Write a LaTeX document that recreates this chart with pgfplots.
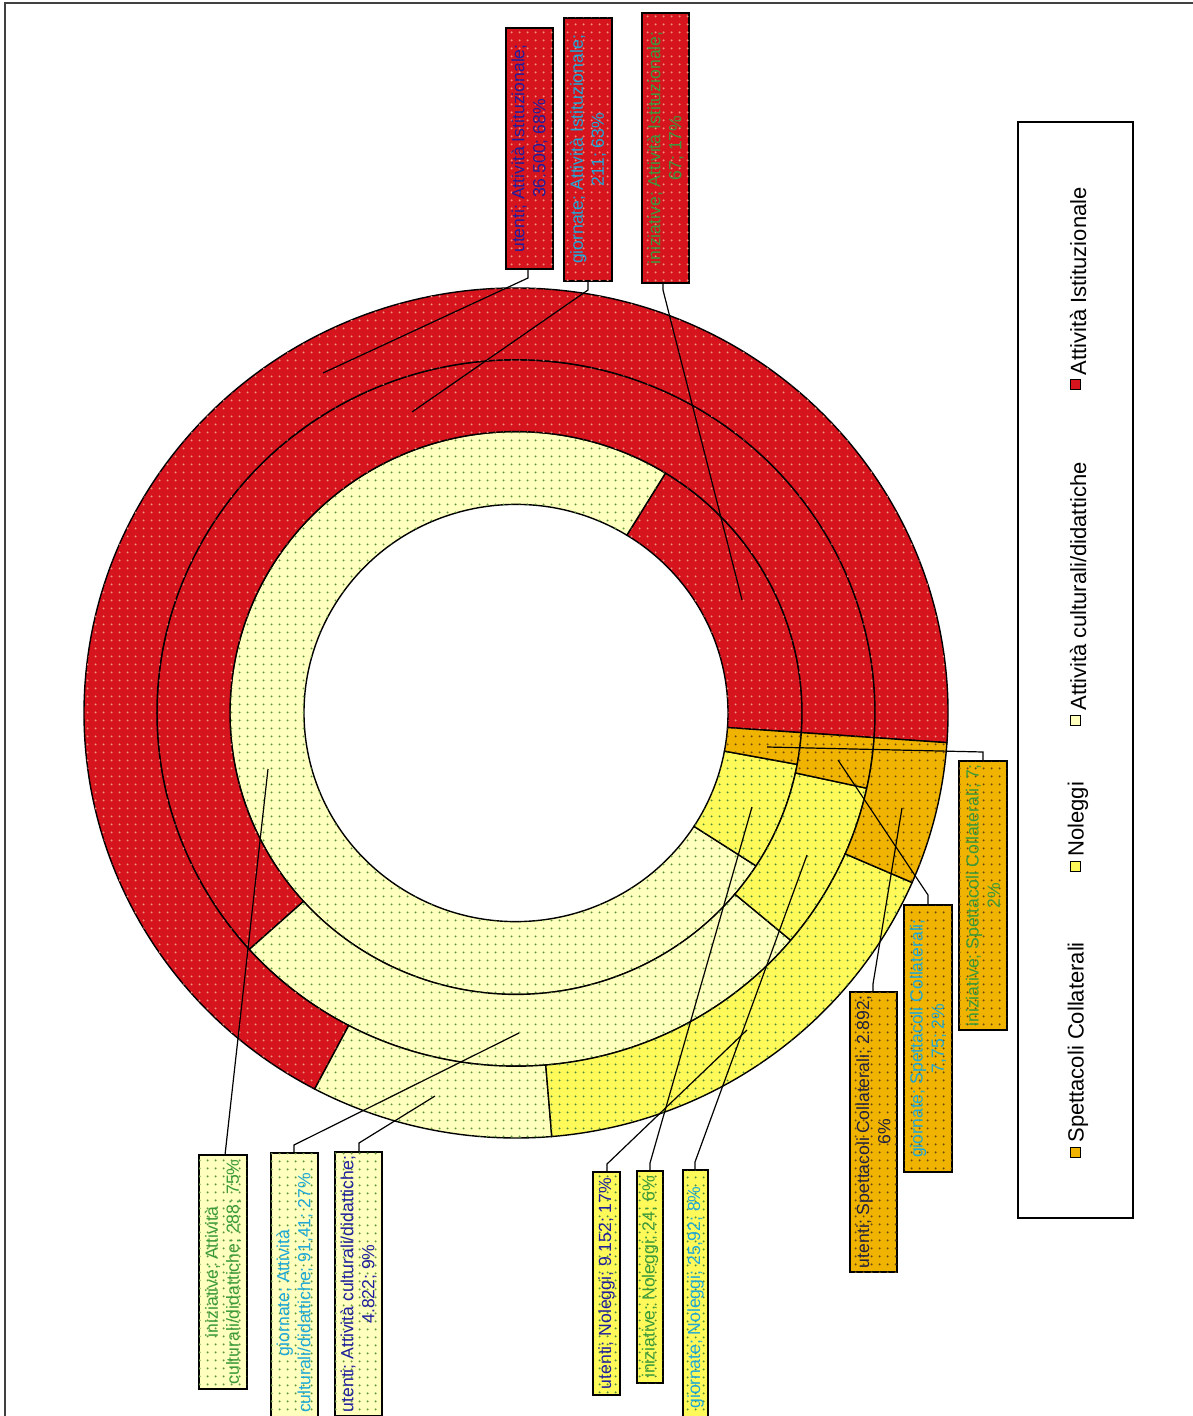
\documentclass[border=0pt]{standalone}
\usepackage{pgfplots}
\pgfplotsset{compat=1.18}
\usepackage{pgfplotstable}
\usetikzlibrary{patterns.meta}
\usepackage{fontspec}
\setmainfont{Liberation Sans}

% colours
\definecolor{istc}{HTML}{D6141E}
\definecolor{cultc}{HTML}{FFFFBE}
\definecolor{nolc}{HTML}{FFFA5A}
\definecolor{spec}{HTML}{F0B400}
\definecolor{istd}{HTML}{F29080}
\definecolor{cultd}{HTML}{5E963A}
\definecolor{nold}{HTML}{4E8A3A}
\definecolor{sped}{HTML}{6A4A10}
\definecolor{tU}{HTML}{1E1E9E}
\definecolor{tG}{HTML}{1EA8D8}
\definecolor{tI}{HTML}{3A9A3A}
\definecolor{tUS}{HTML}{202040}

\pgfplotstableread{
cat    utenti  giornate iniziative
Ist    36500   211      67
Cult   4822    91.41    288
Nol    9152    25.92    24
Spett  2892    7.75     7
}\datatable

\def\startang{-4}
% cumulative angles of one ring, stored as \ang{col}{k}
\newcommand\computering[1]{%
  \gdef\tot{0}%
  \pgfplotsforeachungrouped \k in {0,1,2,3}{%
    \pgfplotstablegetelem{\k}{#1}\of\datatable
    \xdef\tot{\fpeval{\tot+\pgfplotsretval}}%
  }%
  \xdef\acc{\startang}%
  \expandafter\xdef\csname ang#1@0\endcsname{\acc}%
  \pgfplotsforeachungrouped \k in {0,1,2,3}{%
    \pgfplotstablegetelem{\k}{#1}\of\datatable
    \xdef\acc{\fpeval{round(\acc+360*\pgfplotsretval/\tot,3)}}%
    \expandafter\xdef\csname ang#1@\the\numexpr\k+1\relax\endcsname{\acc}%
  }%
}
\newcommand\ang[2]{\csname ang#1@#2\endcsname}
\computering{utenti}
\computering{giornate}
\computering{iniziative}

% ring radii (1px = 0.5pt, slight vertical squash of the scan)
\def\rAx{106pt}\def\rAy{104.3pt}
\def\rBx{143pt}\def\rBy{140.7pt}
\def\rCx{179.5pt}\def\rCy{176.6pt}
\def\rDx{216pt}\def\rDy{212.5pt}

% #1 a0, #2 a1, #3/#4 inner radii, #5/#6 outer radii, #7 style
\newcommand\sector[7]{%
  \edef\tmp{\noexpand\filldraw[#7] ([shift={(C)}]#1:#5 and #6)
    arc[start angle=#1,end angle=#2,x radius=#5,y radius=#6]
    -- ([shift={(C)}]#2:#3 and #4)
    arc[start angle=#2,end angle=#1,x radius=#3,y radius=#4] -- cycle;}%
  \tmp
}
\newcommand\drawring[5]{%
  \sector{\ang{#1}{0}}{\ang{#1}{1}}{#2}{#3}{#4}{#5}{ist}%
  \sector{\ang{#1}{1}}{\ang{#1}{2}}{#2}{#3}{#4}{#5}{cult}%
  \sector{\ang{#1}{2}}{\ang{#1}{3}}{#2}{#3}{#4}{#5}{nol}%
  \sector{\ang{#1}{3}}{\ang{#1}{4}}{#2}{#3}{#4}{#5}{spe}%
}

\tikzset{
  dotfill/.style={postaction={pattern={Dots[distance=4pt,radius=0.6pt]},pattern color=#1}},
  ist/.style={fill=istc,draw=black,line width=0.7pt,dotfill=istd},
  cult/.style={fill=cultc,draw=black,line width=0.7pt,dotfill=cultd},
  nol/.style={fill=nolc,draw=black,line width=0.7pt,dotfill=nold},
  spe/.style={fill=spec,draw=black,line width=0.7pt,dotfill=sped},
  lab/.style={draw=black,line width=0.8pt,rotate=90,align=center,inner sep=1pt,
    font=\fontsize{8.8}{10.6}\selectfont},
  lead/.style={draw=black,line width=0.6pt},
  legtxt/.style={rotate=90,anchor=west,inner sep=0pt,font=\fontsize{11}{13}\selectfont},
  legbox/.style={draw=black,line width=0.5pt,minimum size=5pt,inner sep=0pt},
}

\begin{document}%
\begin{tikzpicture}
\begin{axis}[
    x=0.5pt, y=0.5pt,
    xmin=0, xmax=1192, ymin=0, ymax=1416,
    y dir=reverse,
    hide axis,
    clip=false,
]
\coordinate (BL) at (axis cs:0,1416);
\coordinate (TR) at (axis cs:1192,0);
\coordinate (C) at (axis cs:516,713);

% page frame of the scan
\draw[black!75,line width=1.2pt] (axis cs:5,1420) -- (axis cs:5,3) -- (axis cs:1196,3);

% rings: inner = iniziative, middle = giornate, outer = utenti
\drawring{iniziative}{\rAx}{\rAy}{\rBx}{\rBy}
\drawring{giornate}{\rBx}{\rBy}{\rCx}{\rCy}
\drawring{utenti}{\rCx}{\rCy}{\rDx}{\rDy}

% leader lines
\draw[lead] (axis cs:528,270) -- (axis cs:528,278) -- (axis cs:323,373);
\draw[lead] (axis cs:588,281) -- (axis cs:588,290) -- (axis cs:412,412);
\draw[lead] (axis cs:663,283) -- (axis cs:663,290) -- (axis cs:742,600);
\draw[lead] (axis cs:225,1155) -- (axis cs:268,769);
\draw[lead] (axis cs:294,1153) -- (axis cs:294,1145) -- (axis cs:519,1033);
\draw[lead] (axis cs:359,1152) -- (axis cs:359,1143) -- (axis cs:435,1096);
\draw[lead] (axis cs:607,1172) -- (axis cs:607,1164) -- (axis cs:747,1030);
\draw[lead] (axis cs:650,1171) -- (axis cs:650,1163) -- (axis cs:752,807);
\draw[lead] (axis cs:695,1170) -- (axis cs:695,1162) -- (axis cs:807,855);
\draw[lead] (axis cs:873,992) -- (axis cs:873,984) -- (axis cs:902,808);
\draw[lead] (axis cs:928,905) -- (axis cs:928,895) -- (axis cs:838,760);
\draw[lead] (axis cs:983,761) -- (axis cs:983,752) -- (axis cs:767,747);

% data labels
\node[lab,fill=istc,dotfill=istd,text=tU,minimum width=120.5pt,minimum height=23.5pt]
  at (axis cs:529.5,148.5) {utenti; Attività Istituzionale;\\36.500; 68\%};
\node[lab,fill=istc,dotfill=istd,text=tG,minimum width=131.5pt,minimum height=24pt]
  at (axis cs:588,149.5) {giornate; Attività Istituzionale;\\211; 63\%};
\node[lab,fill=istc,dotfill=istd,text=tI,minimum width=135pt,minimum height=23.5pt]
  at (axis cs:665.5,148) {iniziative; Attività Istituzionale;\\67; 17\%};

\node[lab,fill=cultc,dotfill=cultd,text=tI,minimum width=117pt,minimum height=24pt]
  at (axis cs:223,1272) {iniziative; Attività\\culturali/didattiche; 288; 75\%};
\node[lab,fill=cultc,dotfill=cultd,text=tG,minimum width=140pt,minimum height=23.5pt]
  at (axis cs:294.5,1293) {giornate; Attività\\culturali/didattiche; 91,41; 27\%};
\node[lab,fill=cultc,dotfill=cultd,text=tU,minimum width=132pt,minimum height=23.5pt]
  at (axis cs:358.5,1284) {utenti; Attività culturali/didattiche;\\4.822; 9\%};

\node[lab,fill=nolc,dotfill=nold,text=tU,minimum width=111.5pt,minimum height=13.5pt]
  at (axis cs:606.5,1283.5) {utenti; Noleggi; 9.152; 17\%};
\node[lab,fill=nolc,dotfill=nold,text=tI,minimum width=106pt,minimum height=13pt]
  at (axis cs:650,1277) {iniziative; Noleggi; 24; 6\%};
\node[lab,fill=nolc,dotfill=nold,text=tG,minimum width=127.5pt,minimum height=12.5pt]
  at (axis cs:695.5,1297.5) {giornate; Noleggi; 25,92; 8\%};

\node[lab,fill=spec,dotfill=sped,text=tUS,minimum width=140pt,minimum height=23.5pt]
  at (axis cs:873.5,1132) {utenti; Spettacoli Collaterali; 2.892;\\6\%};
\node[lab,fill=spec,dotfill=sped,text=tG,minimum width=133.5pt,minimum height=24pt]
  at (axis cs:928,1038.5) {giornate; Spettacoli Collaterali;\\7,75; 2\%};
\node[lab,fill=spec,dotfill=sped,text=tI,minimum width=134.5pt,minimum height=24pt]
  at (axis cs:983,895.5) {iniziative; Spettacoli Collaterali; 7;\\2\%};

% legend
\draw[black,line width=0.9pt] (axis cs:1018,122) rectangle (axis cs:1133,1218);
\node[legbox,fill=spec] at (axis cs:1075,1152) {};
\node[legtxt] at (axis cs:1078,1143) {Spettacoli Collaterali};
\node[legbox,fill=nolc] at (axis cs:1075,866) {};
\node[legtxt] at (axis cs:1078,857) {Noleggi};
\node[legbox,fill=cultc] at (axis cs:1075,720) {};
\node[legtxt] at (axis cs:1078,711) {Attività culturali/didattiche};
\node[legbox,fill=istc] at (axis cs:1075,385) {};
\node[legtxt] at (axis cs:1078,376) {Attività Istituzionale};
\end{axis}
\pgfresetboundingbox
\useasboundingbox (BL) rectangle (TR);
\end{tikzpicture}%
\end{document}
